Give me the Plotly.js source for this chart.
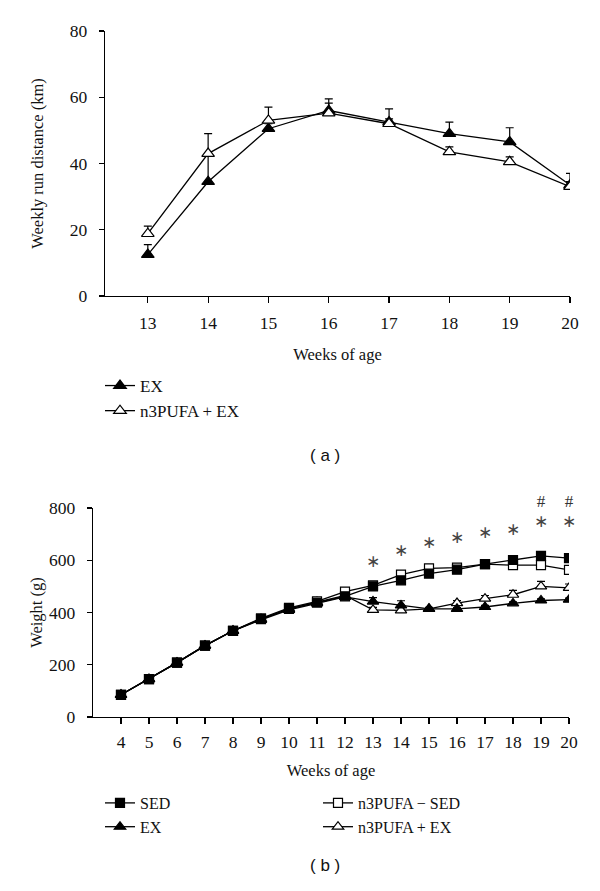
<!DOCTYPE html>
<html><head><meta charset="utf-8">
<script src="https://cdn.plot.ly/plotly-3.0.1.min.js"></script>
<style>body{margin:0;background:#fff}#chart{width:600px;height:891px}</style>
</head><body><div id="chart"></div>
<script>
// ---- Panel (a): weekly run distance ----
const weeksA = [13, 14, 15, 16, 17, 18, 19, 20];
const exRun = [12.5, 34.5, 50.5, 56, 52.5, 49, 46.5, 33.5];
const exRunErr = [3, 8, 1.5, 3.5, 4, 3.5, 4.3, 3.5];
const n3Run = [18.8, 43, 53, 55.2, 52, 43.5, 40.5, 33];
const n3RunErr = [2.3, 6, 4, 3, 1.5, 1.5, 1.5, 1.5];

// ---- Panel (b): body weight ----
const weeksB = [4, 5, 6, 7, 8, 9, 10, 11, 12, 13, 14, 15, 16, 17, 18, 19, 20];
const sedW   = [85, 145, 208, 273, 330, 375, 414, 438, 462, 500, 523, 549, 564, 585, 601, 617, 608];
const sedErr = [4, 4, 4, 5, 5, 6, 6, 7, 7, 8, 8, 8, 8, 8, 8, 8, 10];
const exW    = [85, 145, 208, 273, 330, 372, 410, 435, 460, 442, 427, 414, 414, 421, 435, 446, 449];
const exErr  = [4, 4, 4, 5, 5, 6, 6, 7, 7, 15, 18, 5, 5, 6, 6, 6, 6];
const n3sedW = [85, 145, 208, 273, 330, 378, 418, 443, 480, 504, 545, 569, 572, 585, 581, 581, 563];
const n3sedErr = [4, 4, 4, 5, 5, 6, 6, 7, 7, 8, 8, 8, 8, 8, 8, 8, 8];
const n3exW  = [85, 145, 208, 273, 330, 375, 414, 440, 465, 410, 408, 414, 436, 453, 468, 500, 494];
const n3exErr = [4, 4, 4, 5, 5, 6, 6, 7, 7, 10, 10, 6, 10, 12, 17, 19, 15];

const starWeeks = [13, 14, 15, 16, 17, 18, 19, 20];
const starY = [590, 631, 663, 682, 703, 714, 744, 744];
const hashWeeks = [19, 20];
const hashY = [822, 822];

const tickA = [0, 20, 40, 60, 80];
const tickB = [0, 200, 400, 600, 800];

const serif = 'Liberation Serif, DejaVu Serif, serif';
const zeros = n => new Array(n).fill(0);
const black = '#000';

// pixel layout of panel (b) and an invisible overlay axis with the same scale, a bit taller,
// so the significance marks above 800 g can be drawn
const H = 891;
const bBottom = 717, bTop = 508, markTop = 488;
const markRangeTop = 800 * (bBottom - markTop) / (bBottom - bTop);

function errUp(arr) {
  return {type: 'data', array: arr, arrayminus: zeros(arr.length), symmetric: false,
          color: black, thickness: 1.2, width: 4};
}
function tr(x, y, err, name, symbol, filled, xa, ya, legend, size) {
  return {
    x: x, y: y, name: name, xaxis: xa, yaxis: ya, legend: legend,
    type: 'scatter', mode: 'lines+markers',
    line: {color: black, width: 1.3},
    marker: {symbol: symbol, size: size, color: filled ? black : '#fff',
             line: {color: black, width: 1.2}},
    error_y: errUp(err)
  };
}

const traces = [
  tr(weeksA, exRun, exRunErr, 'EX', 'triangle-up', true, 'x', 'y', 'legend', 11),
  tr(weeksA, n3Run, n3RunErr, 'n3PUFA + EX', 'triangle-up', false, 'x', 'y', 'legend', 11),
  tr(weeksB, n3exW, n3exErr, 'n3PUFA + EX', 'triangle-up', false, 'x2', 'y2', 'legend3', 10),
  tr(weeksB, exW, exErr, 'EX', 'triangle-up', true, 'x2', 'y2', 'legend2', 10),
  tr(weeksB, n3sedW, n3sedErr, 'n3PUFA \u2212 SED', 'square', false, 'x2', 'y2', 'legend3', 9),
  tr(weeksB, sedW, sedErr, 'SED', 'square', true, 'x2', 'y2', 'legend2', 9),
  {x: starWeeks, y: starY, xaxis: 'x2', yaxis: 'y3', type: 'scatter', mode: 'text',
   text: starWeeks.map(() => '\u2217'), textfont: {family: 'DejaVu Sans', size: 17, color: '#444'},
   cliponaxis: false, showlegend: false, hoverinfo: 'skip'},
  {x: hashWeeks, y: hashY, xaxis: 'x2', yaxis: 'y3', type: 'scatter', mode: 'text',
   text: hashWeeks.map(() => '#'), textfont: {family: serif, size: 17, color: '#333'},
   cliponaxis: false, showlegend: false, hoverinfo: 'skip'}
];

const tickFont = {family: serif, size: 17.5, color: '#111'};
const titleFont = {family: serif, size: 16.5, color: '#111'};

const axisCommon = {
  showline: true, linecolor: black, linewidth: 1.2, ticks: 'outside', ticklen: 6,
  tickwidth: 1.2, tickcolor: black, showgrid: false, zeroline: false,
  tickfont: tickFont, fixedrange: true
};

const legendCommon = {
  font: {family: serif, size: 17, color: '#111'}, bgcolor: 'rgba(0,0,0,0)',
  xanchor: 'left', yanchor: 'top', itemwidth: 30, tracegroupgap: 0,
  traceorder: 'reversed', itemclick: false
};

const layout = {
  width: 600, height: H, paper_bgcolor: '#fff', plot_bgcolor: 'rgba(0,0,0,0)',
  margin: {l: 0, r: 0, t: 0, b: 0},
  showlegend: true,
  xaxis: Object.assign({}, axisCommon, {domain: [105/600, 570/600], range: [12.29, 20],
    tickvals: weeksA, anchor: 'y', ticklabelstandoff: 5,
    title: {text: 'Weeks of age', font: titleFont, standoff: 16}}),
  yaxis: Object.assign({}, axisCommon, {domain: [1 - 296/H, 1 - 31/H], range: [0, 80],
    tickvals: tickA, anchor: 'x', ticklen: 5, ticklabelstandoff: 8,
    title: {text: 'Weekly run distance (km)', font: titleFont, standoff: 22}}),
  xaxis2: Object.assign({}, axisCommon, {domain: [93/600, 569/600], range: [3, 20],
    tickvals: weeksB, anchor: 'y2', ticklabelstandoff: 3,
    title: {text: 'Weeks of age', font: titleFont, standoff: 13}}),
  yaxis2: Object.assign({}, axisCommon, {domain: [1 - bBottom/H, 1 - bTop/H], range: [0, 800],
    tickvals: tickB, anchor: 'x2', ticklen: 5, ticklabelstandoff: 8,
    title: {text: 'Weight (g)', font: titleFont, standoff: 2}}),
  yaxis3: {domain: [1 - bBottom/H, 1 - markTop/H], range: [0, markRangeTop], anchor: 'x2',
    visible: false, showgrid: false, zeroline: false, fixedrange: true},
  legend: Object.assign({}, legendCommon, {x: 100/600, y: 1 - 368/H, traceorder: 'normal'}),
  legend2: Object.assign({}, legendCommon, {x: 100/600, y: 1 - 786/H,
    font: {family: serif, size: 16, color: '#111'}}),
  legend3: Object.assign({}, legendCommon, {x: 318/600, y: 1 - 786/H,
    font: {family: serif, size: 16, color: '#111'}}),
  annotations: [
    {text: '( a )', xref: 'paper', yref: 'paper', x: 325/600, y: 1 - 455/H,
     showarrow: false, font: {family: 'Liberation Sans, Arial, sans-serif', size: 17, color: '#111'}},
    {text: '( b )', xref: 'paper', yref: 'paper', x: 325/600, y: 1 - 877/H,
     showarrow: false, font: {family: 'Liberation Sans, Arial, sans-serif', size: 17, color: '#111'}}
  ]
};

Plotly.newPlot('chart', traces, layout, {displayModeBar: false, staticPlot: true});
</script></body></html>
